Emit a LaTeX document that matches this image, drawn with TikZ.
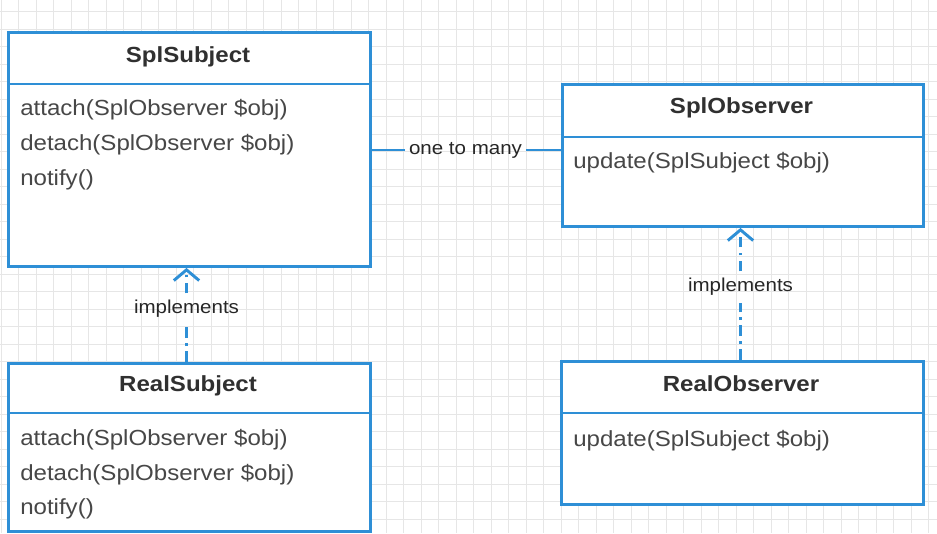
\documentclass[tikz,border=0pt]{standalone}
\usepackage{fontspec}
\setmainfont[FakeStretch=1.1]{Liberation Sans}
\usetikzlibrary{arrows.meta}
\definecolor{umlblue}{HTML}{2E8FD6}
\definecolor{gridgray}{HTML}{E6E6E6}
\definecolor{bodytext}{HTML}{474747}
\definecolor{titletext}{HTML}{303030}
\definecolor{labeltext}{HTML}{262626}
\newcommand\pxu{0.75pt}
\begin{document}
\begin{tikzpicture}[x=0.75pt,y=-0.75pt,
  classbox/.style={draw=umlblue, line width=2.2pt, fill=white, rectangle, anchor=north west, inner sep=0pt},
  divider/.style={draw=umlblue, line width=2.2pt},
  classtitle/.style={font=\fontsize{16.4}{19}\selectfont\bfseries, text=titletext, anchor=base, inner sep=0pt},
  member/.style={font=\fontsize{16.4}{19}\selectfont, text=bodytext, anchor=base west, inner sep=0pt},
  lbl/.style={font=\fontsize{14}{16}\selectfont, text=labeltext, inner sep=3pt},
  assoc/.style={draw=umlblue, line width=2.2pt},
  realize/.style={draw=umlblue, line width=2.2pt, dash pattern=on 8pt off 4pt on 2pt off 4pt,
    -{Straight Barb[length=8pt,width=19pt]}},
  realizeplain/.style={draw=umlblue, line width=2.2pt, dash pattern=on 8pt off 4pt on 2pt off 4pt}
]
\useasboundingbox (0,0) rectangle (937,533);
\fill[white] (0,0) rectangle (937,533);
% grid
\foreach \i in {0,...,53} {\draw[gridgray, line width=0.6pt] ({1+17.5*\i},0) -- ({1+17.5*\i},533);}
\foreach \j in {0,...,30} {\draw[gridgray, line width=0.6pt] (0,{11.7+17.5*\j}) -- (937,{11.7+17.5*\j});}

% class boxes
\node[classbox, minimum width={362*\pxu}, minimum height={234*\pxu}] (ss) at (7,31) {};
\node[classbox, minimum width={361*\pxu}, minimum height={142*\pxu}] (so) at (561,83) {};
\node[classbox, minimum width={362*\pxu}, minimum height={168*\pxu}] (rs) at (7,362) {};
\node[classbox, minimum width={362*\pxu}, minimum height={143*\pxu}] (ro) at (560,360) {};

% dividers
\draw[divider] (ss.west |- 0,84) -- (ss.east |- 0,84);
\draw[divider] (so.west |- 0,137) -- (so.east |- 0,137);
\draw[divider] (rs.west |- 0,413) -- (rs.east |- 0,413);
\draw[divider] (ro.west |- 0,413) -- (ro.east |- 0,413);

% titles
\node[classtitle] (sst) at (188,62) {SplSubject};
\node[classtitle] (sot) at (741.5,113) {SplObserver};
\node[classtitle] (rst) at (188,391) {RealSubject};
\node[classtitle] (rot) at (741,391) {RealObserver};

% members
\node[member] (ss1) at (20,115) {attach(SplObserver \$obj)};
\node[member] (ss2) at (20,150) {detach(SplObserver \$obj)};
\node[member] (ss3) at (20,185) {notify()};
\node[member] (so1) at (573,168) {update(SplSubject \$obj)};
\node[member] (rs1) at (20,445) {attach(SplObserver \$obj)};
\node[member] (rs2) at (20,480) {detach(SplObserver \$obj)};
\node[member] (rs3) at (20,514) {notify()};
\node[member] (ro1) at (573,446) {update(SplSubject \$obj)};

% association
\node[lbl] (otm) at (465.5,150) {one to many};
\draw[assoc] (ss.east |- otm.west) -- (otm.west);
\draw[assoc] (otm.east) -- (so.west |- otm.east);

% realizations
\node[lbl, inner sep=5pt] (imp1) at (186.5,309) {implements};
\node[lbl, inner sep=5pt] (imp2) at (740.5,287) {implements};
\draw[realizeplain] (rs.north -| imp1) -- (imp1.south);
\draw[realize] (imp1.north) -- (ss.south -| imp1);
\draw[realizeplain] (ro.north -| imp2) -- (imp2.south);
\draw[realize] (imp2.north) -- (so.south -| imp2);
\end{tikzpicture}
\end{document}
